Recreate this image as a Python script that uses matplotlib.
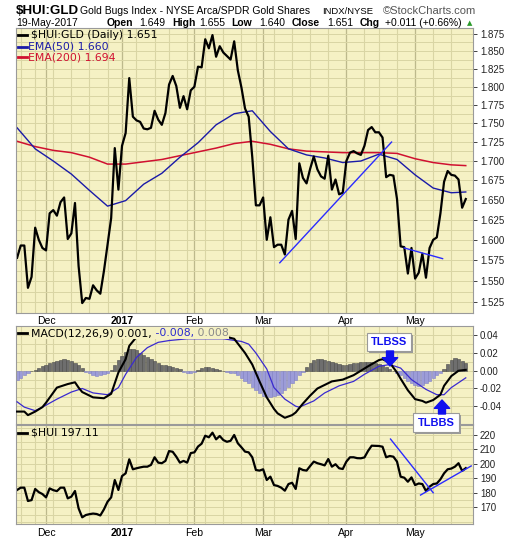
import numpy as np
import pandas as pd
import matplotlib
matplotlib.use('Agg')
import matplotlib.pyplot as plt
from matplotlib.patches import Rectangle
from matplotlib.lines import Line2D

# trading days shown (18-Nov-2016 .. 19-May-2017)
holidays = ['2016-11-24', '2016-12-26', '2017-01-02', '2017-01-16', '2017-02-20', '2017-04-14']
days = pd.bdate_range('2016-11-18', '2017-05-19')
days = days[~days.isin(pd.to_datetime(holidays))]

# $HUI:GLD daily close
ratio = [1.578, 1.593, 1.593, 1.542, 1.555, 1.615, 1.600, 1.590, 1.587, 1.633,
         1.637, 1.630, 1.647, 1.653, 1.601, 1.608, 1.646, 1.568, 1.524, 1.530,
         1.529, 1.545, 1.539, 1.535, 1.562, 1.594, 1.627, 1.717, 1.663, 1.720,
         1.737, 1.812, 1.759, 1.754, 1.752, 1.743, 1.742, 1.744, 1.767, 1.755,
         1.748, 1.764, 1.803, 1.815, 1.801, 1.771, 1.787, 1.769, 1.795, 1.800,
         1.828, 1.827, 1.867, 1.854, 1.873, 1.842, 1.857, 1.848, 1.843, 1.838,
         1.864, 1.823, 1.799, 1.770, 1.759, 1.705, 1.643, 1.643, 1.653, 1.600,
         1.628, 1.591, 1.594, 1.594, 1.582, 1.625, 1.636, 1.601, 1.697, 1.678,
         1.671, 1.690, 1.706, 1.689, 1.680, 1.677, 1.707, 1.663, 1.676, 1.657,
         1.659, 1.700, 1.711, 1.713, 1.710, 1.708, 1.720, 1.741, 1.745, 1.738,
         1.738, 1.731, 1.679, 1.682, 1.681, 1.651, 1.592, 1.591, 1.559, 1.590,
         1.553, 1.560, 1.583, 1.554, 1.590, 1.600, 1.603, 1.633, 1.673, 1.687,
         1.682, 1.681, 1.676, 1.640, 1.651]

ema_day = [0, 5, 10, 15, 20, 25, 30, 35, 40, 45, 50, 55, 60, 65, 70, 75, 80,
           85, 90, 95, 100, 105, 110, 115, 120, 124]
ema50 = [1.744, 1.716, 1.700, 1.683, 1.662, 1.642, 1.649, 1.670, 1.684, 1.705,
         1.724, 1.748, 1.763, 1.767, 1.739, 1.716, 1.708, 1.704, 1.698, 1.700,
         1.709, 1.702, 1.682, 1.665, 1.659, 1.660]
ema200 = [1.726, 1.719, 1.714, 1.711, 1.705, 1.696, 1.696, 1.699, 1.702, 1.707,
          1.712, 1.717, 1.723, 1.726, 1.722, 1.716, 1.713, 1.712, 1.711, 1.711,
          1.711, 1.710, 1.703, 1.698, 1.695, 1.694]

# MACD(12,26,9)
macd_day = [0, 2, 3, 5, 7, 8, 11, 14, 16, 17, 18, 21, 24, 26, 28, 30, 31, 33, 36,
            40, 45, 50, 55, 58, 60, 63, 65, 67, 69, 71, 72, 74, 76, 77, 79, 81, 83,
            85, 87, 90, 93, 95, 97, 100, 101, 103, 105, 106, 108, 110, 112, 113,
            115, 117, 118, 120, 122, 124]
macd = [-0.046, -0.046, -0.050, -0.046, -0.041, -0.036, -0.019, -0.015, -0.013,
        -0.019, -0.024, -0.030, -0.031, -0.026, -0.002, 0.013, 0.028, 0.038, 0.042,
        0.040, 0.038, 0.037, 0.038, 0.038, 0.036, 0.020, 0.007, -0.012, -0.030,
        -0.043, -0.048, -0.053, -0.050, -0.047, -0.037, -0.028, -0.020, -0.016,
        -0.012, -0.010, -0.005, 0.000, 0.005, 0.012, 0.013, 0.009, -0.002, -0.009,
        -0.022, -0.032, -0.034, -0.036, -0.033, -0.027, -0.017, -0.006, 0.000, 0.001]
sig_day = [0, 2, 5, 7, 11, 15, 18, 21, 25, 28, 30, 33, 36, 39, 42, 47, 52, 57, 62,
           64, 66, 69, 71, 74, 77, 78, 82, 85, 89, 93, 96, 100, 103, 106, 109, 113,
           116, 118, 120, 124]
signal = [-0.035, -0.041, -0.045, -0.041, -0.032, -0.024, -0.020, -0.025, -0.027,
          -0.019, -0.004, 0.015, 0.026, 0.032, 0.034, 0.036, 0.036, 0.036, 0.033,
          0.030, 0.020, 0.002, -0.019, -0.032, -0.040, -0.041, -0.034, -0.025,
          -0.017, -0.012, -0.004, 0.005, 0.007, 0.003, -0.010, -0.021, -0.027,
          -0.027, -0.019, -0.008]
hist = [-0.010, -0.008, -0.005, -0.002, 0.000, 0.001, 0.003, 0.005, 0.007, 0.009,
        0.010, 0.011, 0.012, 0.013, 0.012, 0.011, 0.009, 0.006, 0.003, -0.001,
        -0.003, -0.005, -0.006, -0.005, -0.004, -0.002, 0.001, 0.006, 0.012, 0.017,
        0.021, 0.024, 0.025, 0.023, 0.020, 0.018, 0.016, 0.013, 0.011, 0.009,
        0.007, 0.006, 0.005, 0.004, 0.003, 0.002, -0.001, -0.002, -0.002, -0.001,
        0.001, 0.003, 0.004, 0.004, 0.003, 0.002, 0.001, 0.000, -0.001, -0.002,
        -0.003, -0.005, -0.008, -0.011, -0.014, -0.018, -0.022, -0.025, -0.028, -0.030,
        -0.030, -0.029, -0.027, -0.025, -0.022, -0.018, -0.014, -0.010, -0.005, -0.001,
        0.004, 0.009, 0.012, 0.013, 0.013, 0.012, 0.011, 0.010, 0.009, 0.008,
        0.007, 0.007, 0.008, 0.009, 0.009, 0.010, 0.010, 0.010, 0.010, 0.009,
        0.008, 0.006, 0.004, 0.002, 0.000, -0.002, -0.005, -0.008, -0.011, -0.014,
        -0.016, -0.017, -0.016, -0.014, -0.011, -0.008, -0.005, -0.002, 0.002, 0.008,
        0.012, 0.014, 0.013, 0.011, 0.009]

# $HUI close
hui = [182.0, 183.6, 183.6, 174.4, 175.0, 182.7, 180.5, 179.2, 176.9, 183.1,
       181.9, 181.2, 183.6, 183.6, 176.2, 177.4, 181.3, 169.3, 163.1, 164.7,
       165.3, 165.7, 165.4, 164.4, 168.6, 173.9, 176.9, 188.9, 182.0, 191.6,
       193.5, 203.2, 196.3, 197.0, 197.6, 198.1, 198.1, 199.3, 204.6, 200.9,
       200.5, 202.1, 208.9, 208.4, 205.0, 200.9, 202.1, 200.9, 207.5, 208.0,
       212.0, 214.0, 219.5, 218.4, 221.6, 217.0, 219.3, 216.5, 215.3, 216.0,
       220.0, 214.3, 211.5, 208.5, 208.0, 204.6, 195.8, 195.4, 196.3, 188.9,
       191.2, 185.4, 184.8, 183.6, 181.5, 186.1, 187.0, 182.7, 197.0, 195.8,
       195.4, 198.6, 201.6, 200.5, 199.8, 199.0, 203.4, 198.1, 199.8, 197.0,
       196.5, 201.6, 204.6, 204.6, 204.0, 203.9, 204.5, 209.0, 212.6, 212.5,
       212.4, 211.9, 204.6, 205.5, 205.0, 201.6, 191.2, 190.5, 187.7, 190.7,
       185.4, 186.5, 186.1, 181.3, 184.3, 186.1, 186.5, 189.4, 193.5, 196.3,
       196.8, 198.1, 200.5, 195.2, 197.1]

# hand-drawn trend lines (day index, value)
tl_ratio = [([72.6, 103.5], [1.572, 1.725]), ([107.0, 117.6], [1.590, 1.577])]
tl_hui = [([103.2, 115.0], [217.2, 180.1]), ([111.5, 125.5], [178.5, 198.6])]

ratio_ticks = [1.525 + 0.025 * k for k in range(15)]
macd_ticks = [-0.04, -0.02, 0.0, 0.02, 0.04]
hui_ticks = [170, 180, 190, 200, 210, 220]

n = len(days)
x = np.arange(n)
W, H = 520, 540
bg = '#f5f1c4'
gc = '#d9d5a4'
mc = '#bdb98c'

fig = plt.figure(figsize=(W / 100, H / 100), dpi=100)
fig.patch.set_facecolor('white')

def box(x0, y0, x1, y1):
    return [x0 / W, 1 - y1 / H, (x1 - x0) / W, (y1 - y0) / H]

def ftext(px, py, s, **kw):
    kw.setdefault('va', 'center')
    return fig.text(px / W, 1 - py / H, s, **kw)

def fline(x0, x1, py, c, lw=2):
    fig.add_artist(Line2D([x0 / W, x1 / W], [1 - py / H] * 2, color=c, lw=lw,
                          transform=fig.transFigure))

ax1 = fig.add_axes(box(16, 28, 473, 313))
ax2 = fig.add_axes(box(16, 326, 473, 424))
ax3 = fig.add_axes(box(16, 425, 473, 524))

wk = [i for i in range(1, n) if days[i].weekday() < days[i - 1].weekday()]
mo = [i for i in range(1, n) if days[i].month != days[i - 1].month]

for ax in (ax1, ax2, ax3):
    ax.set_facecolor(bg)
    ax.set_xlim(-0.3, 126.0)
    for i in wk:
        ax.axvline(i, color=gc, lw=0.8, zorder=0)
    for i in mo:
        ax.axvline(i, color=mc, lw=0.9, zorder=0)
    ax.set_xticks([])
    ax.yaxis.tick_right()
    ax.tick_params(axis='y', length=3, width=0.6, pad=2, labelsize=7, colors='#222222')
    for s in ax.spines.values():
        s.set_color('#9a9a9a')
        s.set_linewidth(0.8)

# main panel
ax1.set_yscale('log')
ax1.set_ylim(1.5124, 1.8832)
for v in np.arange(1.5125, 1.88, 0.0125):
    ax1.axhline(v, color=gc, lw=0.7, zorder=0)
ax1.set_yticks(ratio_ticks)
ax1.set_yticklabels(['%.3f' % v for v in ratio_ticks], family='Liberation Sans')
ax1.minorticks_off()
ax1.plot(ema_day, ema200, color='#d01030', lw=1.1)
ax1.plot(ema_day, ema50, color='#1a1aa8', lw=1.0)
ax1.plot(x, ratio, color='black', lw=1.6)
for xs, ys in tl_ratio:
    ax1.plot(xs, ys, color='#2b2bff', lw=1.0)

# macd panel
ax2.set_ylim(-0.060, 0.0504)
for v in np.arange(-0.06, 0.051, 0.01):
    ax2.axhline(v, color=gc, lw=0.7, zorder=0)
ax2.set_yticks(macd_ticks)
ax2.set_yticklabels(['%.2f' % v for v in macd_ticks], family='Liberation Sans')
hc = ['#6e6e6e' if v >= 0 else '#9c9cd8' for v in hist]
ec = ['#4a4a4a' if v >= 0 else '#8080c4' for v in hist]
ax2.bar(x, hist, width=0.9, color=hc, edgecolor=ec, linewidth=0.4, zorder=2)
ax2.plot(sig_day, signal, color='#3a2ad0', lw=0.9, zorder=3)
ax2.plot(macd_day, macd, color='black', lw=1.5, zorder=4)

# HUI panel
ax3.set_ylim(158.5, 226.9)
for v in range(160, 227, 5):
    ax3.axhline(v, color=gc, lw=0.7, zorder=0)
ax3.set_yticks(hui_ticks)
ax3.set_yticklabels([str(v) for v in hui_ticks], family='Liberation Sans')
ax3.plot(x, hui, color='black', lw=1.6)
for xs, ys in tl_hui:
    ax3.plot(xs, ys, color='#2b2bff', lw=1.0)

# month labels
for i in mo:
    lab = '2017' if days[i].month == 1 else days[i].strftime('%b')
    wt = 'bold' if lab == '2017' else 'normal'
    for ax, yy in ((ax1, -7.5 / 285), (ax3, -8.5 / 99)):
        ax.text(i, yy, lab, transform=ax.get_xaxis_transform(), ha='center', va='center',
                fontsize=7.5, fontweight=wt, family='Liberation Sans', clip_on=False)

# header
ftext(16, 11, '$HUI:GLD', fontsize=9.6, fontweight='bold', family='Liberation Sans', ha='left')
ftext(80, 11, 'Gold Bugs Index - NYSE Arca/SPDR Gold Shares', fontsize=7.5, family='Liberation Sans', ha='left')
ftext(322, 11, 'INDX/NYSE', fontsize=6.8, family='Liberation Sans', ha='left')
ftext(383, 11, '\u00a9StockCharts.com', fontsize=8, family='Liberation Sans', color='#555555', ha='left')
ftext(16, 23, '19-May-2017', fontsize=7.5, family='Liberation Sans', ha='left')
hdr = [(107, 'Open', True), (139, '1.649', False), (172, 'High', True), (199, '1.655', False),
       (231, 'Low', True), (259, '1.640', False), (292, 'Close', True), (327, '1.651', False),
       (360, 'Chg', True), (385, '+0.011 (+0.66%)', False)]
for px, s, b in hdr:
    ftext(px, 23, s, fontsize=7.5, fontweight='bold' if b else 'normal',
          family='Liberation Sans', ha='left')
ftext(467, 23, '\u25b2', fontsize=5, color='#2a9a2a', ha='left')

# legends
lg = dict(fontsize=7.8, family='DejaVu Sans', ha='left')
fline(18, 27, 35, 'black')
ftext(31, 35, '$HUI:GLD (Daily) 1.651', color='black', **lg)
fline(18, 27, 46.5, '#1a1aa8')
ftext(28, 46.5, 'EMA(50) 1.660', color='#1a1aa8', **lg)
fline(18, 27, 57, '#d01030')
ftext(28, 57, 'EMA(200) 1.694', color='#d01030', **lg)

fline(18, 27, 333, 'black')
pad = dict(facecolor=bg, edgecolor='none', pad=0.5)
t = ftext(31, 333, 'MACD(12,26,9) 0.001,', color='black', bbox=pad, **lg)
t2 = ax2.annotate(' -0.008,', xy=(1, 0.5), xycoords=t, va='center', ha='left',
                  color='#2a2ad0', fontsize=7.8, family='DejaVu Sans', bbox=pad,
                  annotation_clip=False, zorder=6)
ax2.annotate(' 0.008', xy=(1, 0.5), xycoords=t2, va='center', ha='left',
             color='#8a8a8a', fontsize=7.8, family='DejaVu Sans', bbox=pad,
             annotation_clip=False, zorder=6)

fline(18, 27, 432.5, 'black')
ftext(31, 432.5, '$HUI 197.11', color='black', **lg)

# signal annotations
def callout(x0, y0, x1, y1, s):
    fig.add_artist(Rectangle(((x0 + 2) / W, 1 - (y1 + 2) / H), (x1 - x0) / W, (y1 - y0) / H,
                             transform=fig.transFigure, facecolor='#9a9a9a', edgecolor='none', zorder=8))
    fig.add_artist(Rectangle((x0 / W, 1 - y1 / H), (x1 - x0) / W, (y1 - y0) / H,
                             transform=fig.transFigure, facecolor='white', edgecolor='#9a9a9a',
                             lw=0.8, zorder=9))
    ftext((x0 + x1) / 2, (y0 + y1) / 2, s, fontsize=8, fontweight='bold', color='#1010ee',
          family='Liberation Sans', ha='center', zorder=10)

def arrow(px, py0, py1):
    fig.add_artist(plt.Annotation('', xy=(px, H - py1), xytext=(px, H - py0),
                                  xycoords='figure pixels',
                                  arrowprops=dict(arrowstyle='simple,head_width=1.1,head_length=0.6,tail_width=0.5',
                                                  color='#1010ee', shrinkA=0, shrinkB=0), zorder=10))

callout(367, 333, 411, 351, 'TLBSS')
arrow(390, 351, 366)
callout(413, 413, 459, 432, 'TLBBS')
arrow(442, 414, 400)

fig.savefig('out.png', dpi=100)
